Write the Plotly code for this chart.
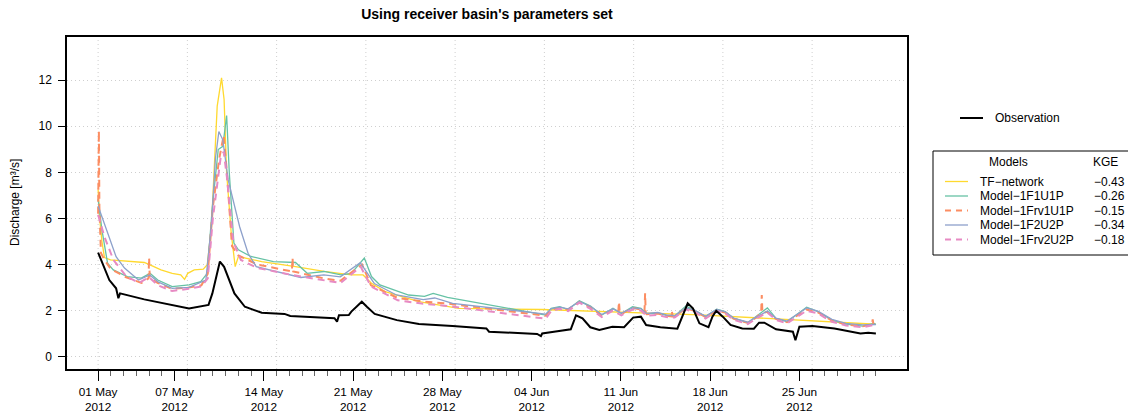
import pandas as pd
import plotly.graph_objects as go

# Days since 01 May 2012 and discharge [m3/s]
obs_days = [0, 0.88, 1.41, 1.59, 1.72, 3.62, 7.13, 8.25, 8.66, 8.96, 9.55, 9.88, 10.69, 11.51,
            12.83, 14.62, 15.07, 18.54, 18.74, 18.89, 19.66, 19.86, 20.68, 21.08, 21.69, 23.43,
            25.16, 27.8, 30.45, 30.66, 32.18, 34.43, 34.73, 34.83, 35.75, 37.07, 37.48, 37.99,
            38.6, 39.31, 40.33, 41.25, 41.96, 42.57, 42.98, 44.1, 45.43, 45.83, 46.24, 46.65,
            47.16, 47.87, 48.18, 48.48, 48.99, 49.6, 50.52, 51.43, 51.84, 52.25, 53.17, 54.49,
            54.69, 55.0, 56.02, 57.75, 59.79, 60.4, 61.0]
obs_q = [4.52, 3.33, 2.97, 2.54, 2.75, 2.49, 2.09, 2.22, 2.25, 2.75, 4.13, 3.9, 2.75, 2.17,
         1.91, 1.86, 1.77, 1.67, 1.52, 1.80, 1.81, 1.96, 2.39, 2.17, 1.86, 1.59,
         1.42, 1.33, 1.23, 1.09, 1.04, 0.99, 0.90, 1.01, 1.09, 1.19, 1.80, 1.67,
         1.28, 1.16, 1.30, 1.28, 1.70, 1.74, 1.38, 1.28, 1.22, 1.74, 2.32, 2.10,
         1.45, 1.28, 1.74, 2.0, 1.74, 1.38, 1.23, 1.22, 1.48, 1.48, 1.19, 1.09,
         0.72, 1.30, 1.33, 1.23, 1.01, 1.04, 1.01]

tf_days = [0, 0.12, 0.3, 0.5, 0.97, 1.83, 3.62, 4.07, 4.93, 5.81, 6.48, 6.78, 7.03, 7.54, 8.25,
           8.56, 8.89, 9.34, 9.68, 9.88, 10.08, 10.44, 10.75, 11.0, 11.54, 12.83, 15.48, 17.72,
           19.86, 20.78, 21.44, 22.51, 25.16, 27.4, 28.3, 34.8, 47.2, 61.0]
tf_q = [7.25, 6.0, 5.0, 4.3, 4.2, 4.17, 4.09, 3.99, 3.77, 3.62, 3.55, 3.36, 3.62, 3.77, 3.80,
        3.99, 5.65, 10.87, 12.1, 11.16, 7.97, 5.36, 3.91, 4.35, 4.28, 4.13, 3.91, 3.70,
        3.55, 3.55, 3.19, 2.83, 2.39, 2.17, 2.10, 2.05, 1.82, 1.41]

f1_days = [0, 0.3, 0.74, 1.19, 2.29, 3.39, 4.07, 4.68, 5.81, 7.13, 8.05, 8.56, 8.96, 9.42, 9.78,
           10.08, 10.29, 10.65, 11.0, 11.98, 13.75, 15.48, 16.4, 17.72, 19.05, 19.86, 20.88,
           21.44, 22.1, 24.35, 25.6, 26.28, 27.4, 35.1, 35.53, 36.2, 36.86, 37.74, 38.62, 39.5,
           40.38, 41.04, 41.92, 42.58, 43.02, 43.9, 44.56, 45.22, 46.1, 46.76, 47.64, 48.52,
           49.18, 49.85, 50.95, 51.6, 52.49, 53.15, 54.03, 55.57, 56.45, 57.55, 58.65, 59.97,
           60.85, 61.0]
f1_q = [6.84, 5.5, 4.06, 3.77, 3.48, 3.41, 3.62, 3.33, 3.04, 3.12, 3.26, 3.62, 6.52, 8.99, 9.13,
        10.46, 7.97, 4.93, 4.64, 4.35, 4.13, 4.09, 3.62, 3.70, 3.55, 3.62, 4.28,
        3.48, 3.12, 2.68, 2.62, 2.75, 2.58, 1.81, 2.10, 2.17, 2.05, 2.43, 2.20, 1.81,
        2.10, 1.88, 2.17, 2.10, 1.86, 1.90, 1.80, 1.77, 2.20, 2.03, 1.74, 2.06,
        1.96, 1.67, 1.48, 1.74, 2.12, 1.67, 1.52, 2.15, 1.96, 1.59, 1.42, 1.33,
        1.45, 1.40]

frv1_days = [0, 0.06, 0.1, 0.22, 0.5, 1.0, 2.2, 3.4, 3.95, 4.0, 4.05, 4.7, 5.8, 7.1, 8.1, 8.6,
             9.0, 9.5, 9.85, 10.1, 10.5, 11.0, 12.5, 15.2, 15.25, 15.3, 17.7, 19.0, 20.7, 21.4,
             23.5, 25.5, 27.5, 35.1, 35.53, 36.2, 36.86, 37.74, 38.62, 39.5, 40.38, 40.8,
             40.85, 40.9, 41.04, 41.92, 42.58, 42.85, 42.9, 42.95, 43.02, 43.9, 44.56, 44.95,
             45.0, 45.05, 45.22, 46.1, 46.76, 47.64, 48.52, 49.18, 49.85, 50.95, 51.6, 52.0,
             52.05, 52.1, 52.49, 53.15, 54.03, 55.57, 56.45, 57.55, 58.65, 59.97, 60.7, 60.75,
             60.8, 61.0]
frv1_q = [6.2, 9.8, 6.5, 4.5, 4.2, 3.8, 3.45, 3.2, 3.4, 4.3, 3.4, 3.2, 2.95, 3.0, 3.1, 3.6,
          6.5, 8.6, 9.6, 8.0, 4.8, 4.4, 4.0, 3.7, 4.3, 3.7, 3.4, 3.3, 4.0, 3.1,
          2.55, 2.4, 2.3, 1.78, 2.05, 2.12, 2.05, 2.38, 2.15, 1.78, 2.05, 2.0,
          2.39, 2.0, 1.85, 2.12, 2.05, 1.95, 2.75, 1.9, 1.85, 1.88, 1.78, 1.75,
          2.0, 1.75, 1.75, 2.1, 2.0, 1.72, 2.0, 1.92, 1.65, 1.47, 1.70, 1.9,
          2.68, 1.9, 1.95, 1.65, 1.50, 2.05, 1.93, 1.57, 1.40, 1.32, 1.42, 1.62,
          1.42, 1.38]

f2_days = [0, 0.97, 1.41, 2.07, 3.17, 4.05, 4.7, 5.81, 7.13, 8.45, 8.9, 9.2, 9.47, 9.78, 10.2,
           11.1, 11.76, 12.4, 14.6, 15.9, 17.7, 19.0, 20.56, 21.66, 23.4, 25.5, 26.4, 27.8,
           35.1, 35.53, 36.2, 36.86, 37.74, 38.62, 39.5, 40.38, 41.04, 41.92, 42.58, 43.02,
           43.9, 44.56, 45.22, 46.1, 46.76, 47.64, 48.52, 49.18, 49.85, 50.95, 51.6, 52.49,
           53.15, 54.03, 55.57, 56.45, 57.55, 58.65, 59.97, 60.85, 61.0]
f2_q = [6.54, 5.07, 4.34, 3.85, 3.33, 3.55, 3.25, 2.97, 3.01, 3.33, 5.79, 8.6, 9.77, 9.41, 7.67,
        5.64, 4.49, 3.91, 3.62, 3.44, 3.55, 3.47, 4.08, 3.18, 2.68, 2.48, 2.55, 2.32,
        1.85, 2.08, 2.15, 2.08, 2.40, 2.18, 1.83, 2.08, 1.90, 2.12, 2.08, 1.88,
        1.92, 1.82, 1.78, 2.12, 2.02, 1.76, 2.05, 1.95, 1.68, 1.50, 1.72, 1.98,
        1.68, 1.55, 2.12, 1.98, 1.62, 1.45, 1.38, 1.42, 1.40]

frv2_days = [0, 0.5, 1.2, 2.2, 3.2, 4.0, 4.7, 5.8, 7.1, 8.1, 8.6, 9.0, 9.6, 9.85, 10.1, 10.6,
             11.2, 12.5, 15.2, 17.7, 19.0, 20.6, 21.4, 23.5, 25.5, 27.5, 35.1, 35.53, 36.2,
             36.86, 37.74, 38.62, 39.5, 40.38, 41.04, 41.92, 42.58, 43.02, 43.9, 44.56, 45.22,
             46.1, 46.76, 47.64, 48.52, 49.18, 49.85, 50.95, 51.6, 52.49, 53.15, 54.03, 55.57,
             56.45, 57.55, 58.65, 59.97, 60.85, 61.0]
frv2_q = [6.16, 5.2, 4.2, 3.5, 3.2, 3.45, 3.1, 2.85, 2.95, 3.05, 3.4, 6.0, 8.6, 8.9, 7.8, 5.0,
          4.2, 3.85, 3.55, 3.3, 3.2, 3.9, 3.05, 2.45, 2.3, 2.2, 1.65, 1.98, 2.08,
          1.98, 2.35, 2.08, 1.72, 2.0, 1.80, 2.05, 2.0, 1.78, 1.82, 1.72, 1.70,
          2.05, 1.95, 1.66, 1.98, 1.88, 1.60, 1.42, 1.65, 1.92, 1.60, 1.45, 2.0,
          1.88, 1.52, 1.36, 1.28, 1.38, 1.34]

model_names = ["TF\u2212network", "Model\u22121F1U1P", "Model\u22121Frv1U1P",
               "Model\u22121F2U2P", "Model\u22121Frv2U2P"]
model_kge = ["\u22120.43", "\u22120.26", "\u22120.15", "\u22120.34", "\u22120.18"]
model_colors = ["#FFD92F", "#66C2A5", "#FC8D62", "#8DA0CB", "#E78AC3"]
model_dash = ["solid", "solid", "7px,5px", "solid", "7px,5px"]
model_width = [1.3, 1.3, 2, 1.3, 2]

tick_dates = ["2012-05-01", "2012-05-07", "2012-05-14", "2012-05-21", "2012-05-28",
              "2012-06-04", "2012-06-11", "2012-06-18", "2012-06-25"]
grid_days = [0, 7, 14, 21, 28, 35, 42, 49, 56]

start = pd.Timestamp("2012-05-01")


def to_dt(days):
    return start + pd.to_timedelta(days, unit="D")


series = [
    (tf_days, tf_q),
    (f1_days, f1_q),
    (frv1_days, frv1_q),
    (f2_days, f2_q),
    (frv2_days, frv2_q),
]

FONT = "Liberation Sans, Arial, Helvetica, sans-serif"
W, H = 1128, 415
L, R, T, B = 67, 221, 37, 46
PW, PH = W - L - R, H - T - B


def px(x):
    return (x - L) / PW


def py(y):
    return (H - B - y) / PH


fig = go.Figure()

for (d, q), name, col, dash, lw in zip(series, model_names, model_colors, model_dash, model_width):
    fig.add_trace(go.Scatter(x=to_dt(d), y=q, mode="lines", name=name,
                             line=dict(color=col, width=lw, dash=dash), showlegend=False))

fig.add_trace(go.Scatter(x=to_dt(obs_days), y=obs_q, mode="lines", name="Observation",
                         line=dict(color="black", width=2), showlegend=False))

# vertical dotted grid (weekly from 01 May)
shapes = []
for g in grid_days:
    shapes.append(dict(type="line", xref="x", yref="paper", x0=to_dt(g), x1=to_dt(g),
                       y0=0, y1=1, layer="below",
                       line=dict(color="#cfcfcf", width=1, dash="1px,3px")))

# legend drawn by hand (R style); its box runs off the right edge
box = dict(color="black", width=1)
shapes.append(dict(type="line", xref="paper", yref="paper", x0=px(960), x1=px(983),
                   y0=py(118), y1=py(118), line=dict(color="black", width=2)))
shapes.append(dict(type="line", xref="paper", yref="paper", x0=px(933), x1=px(1128),
                   y0=py(151), y1=py(151), line=box))
shapes.append(dict(type="line", xref="paper", yref="paper", x0=px(933), x1=px(1128),
                   y0=py(255), y1=py(255), line=box))
shapes.append(dict(type="line", xref="paper", yref="paper", x0=px(933), x1=px(933),
                   y0=py(255), y1=py(151), line=box))
annotations = [
    dict(text="Observation", x=px(993), y=py(118), xanchor="left", yanchor="middle"),
    dict(text="Models", x=px(1008), y=py(162), xanchor="center", yanchor="middle"),
    dict(text="KGE", x=px(1105), y=py(162), xanchor="center", yanchor="middle"),
    dict(text="Discharge [m\u00b3/s]", x=px(15), y=0.5, xanchor="center", yanchor="middle",
         textangle=-90),
]
for i, (name, kge, col, dash, lw) in enumerate(zip(model_names, model_kge, model_colors,
                                                    model_dash, model_width)):
    yy = 181.5 + 14.5 * i
    shapes.append(dict(type="line", xref="paper", yref="paper", x0=px(945), x1=px(968),
                       y0=py(yy), y1=py(yy),
                       line=dict(color=col, width=lw, dash="6px,5px" if dash != "solid" else "solid")))
    annotations.append(dict(text=name, x=px(978), y=py(yy), xanchor="left", yanchor="middle"))
    annotations.append(dict(text=kge, x=px(1092), y=py(yy), xanchor="left", yanchor="middle"))

for a in annotations:
    a.update(xref="paper", yref="paper", showarrow=False, font=dict(size=12, color="black"))

fig.update_layout(
    width=W, height=H,
    margin=dict(l=L, r=R, t=T, b=B),
    plot_bgcolor="white", paper_bgcolor="white",
    font=dict(family=FONT, size=12, color="black"),
    title=dict(text="<b>Using receiver basin's parameters set</b>", x=0.5, xref="paper",
               y=1 - 14 / H, yref="container", xanchor="center", yanchor="middle",
               font=dict(size=14, color="black")),
    shapes=shapes,
    annotations=annotations,
    showlegend=False,
)

fig.update_xaxes(
    type="date",
    range=[to_dt(-2.44), to_dt(63.44)],
    tickmode="array",
    tickvals=pd.to_datetime(tick_dates),
    ticktext=[pd.Timestamp(t).strftime("%d %b<br>%Y") for t in tick_dates],
    ticks="outside", ticklen=10, tickwidth=1, tickcolor="black",
    ticklabelstandoff=1,
    tickfont=dict(size=11.8),
    minor=dict(tickmode="array", tickvals=to_dt(list(range(0, 62))), ticks="outside",
               ticklen=5, tickwidth=1, tickcolor="#666666", showgrid=False),
    showgrid=False, zeroline=False, automargin=False,
    showline=True, mirror=True, linecolor="black", linewidth=1.5,
)
fig.update_yaxes(
    range=[-0.53, 13.87],
    tickmode="array", tickvals=[0, 2, 4, 6, 8, 10, 12],
    ticks="outside", ticklen=7, tickwidth=1, tickcolor="black",
    ticklabelstandoff=4, automargin=False,
    showgrid=True, gridcolor="#cfcfcf", griddash="1px,3px", gridwidth=1,
    zeroline=False,
    showline=True, mirror=True, linecolor="black", linewidth=1.5,
)

fig.write_html("out.html", config={"displayModeBar": False},
               post_script="document.body.style.margin = '0';")
